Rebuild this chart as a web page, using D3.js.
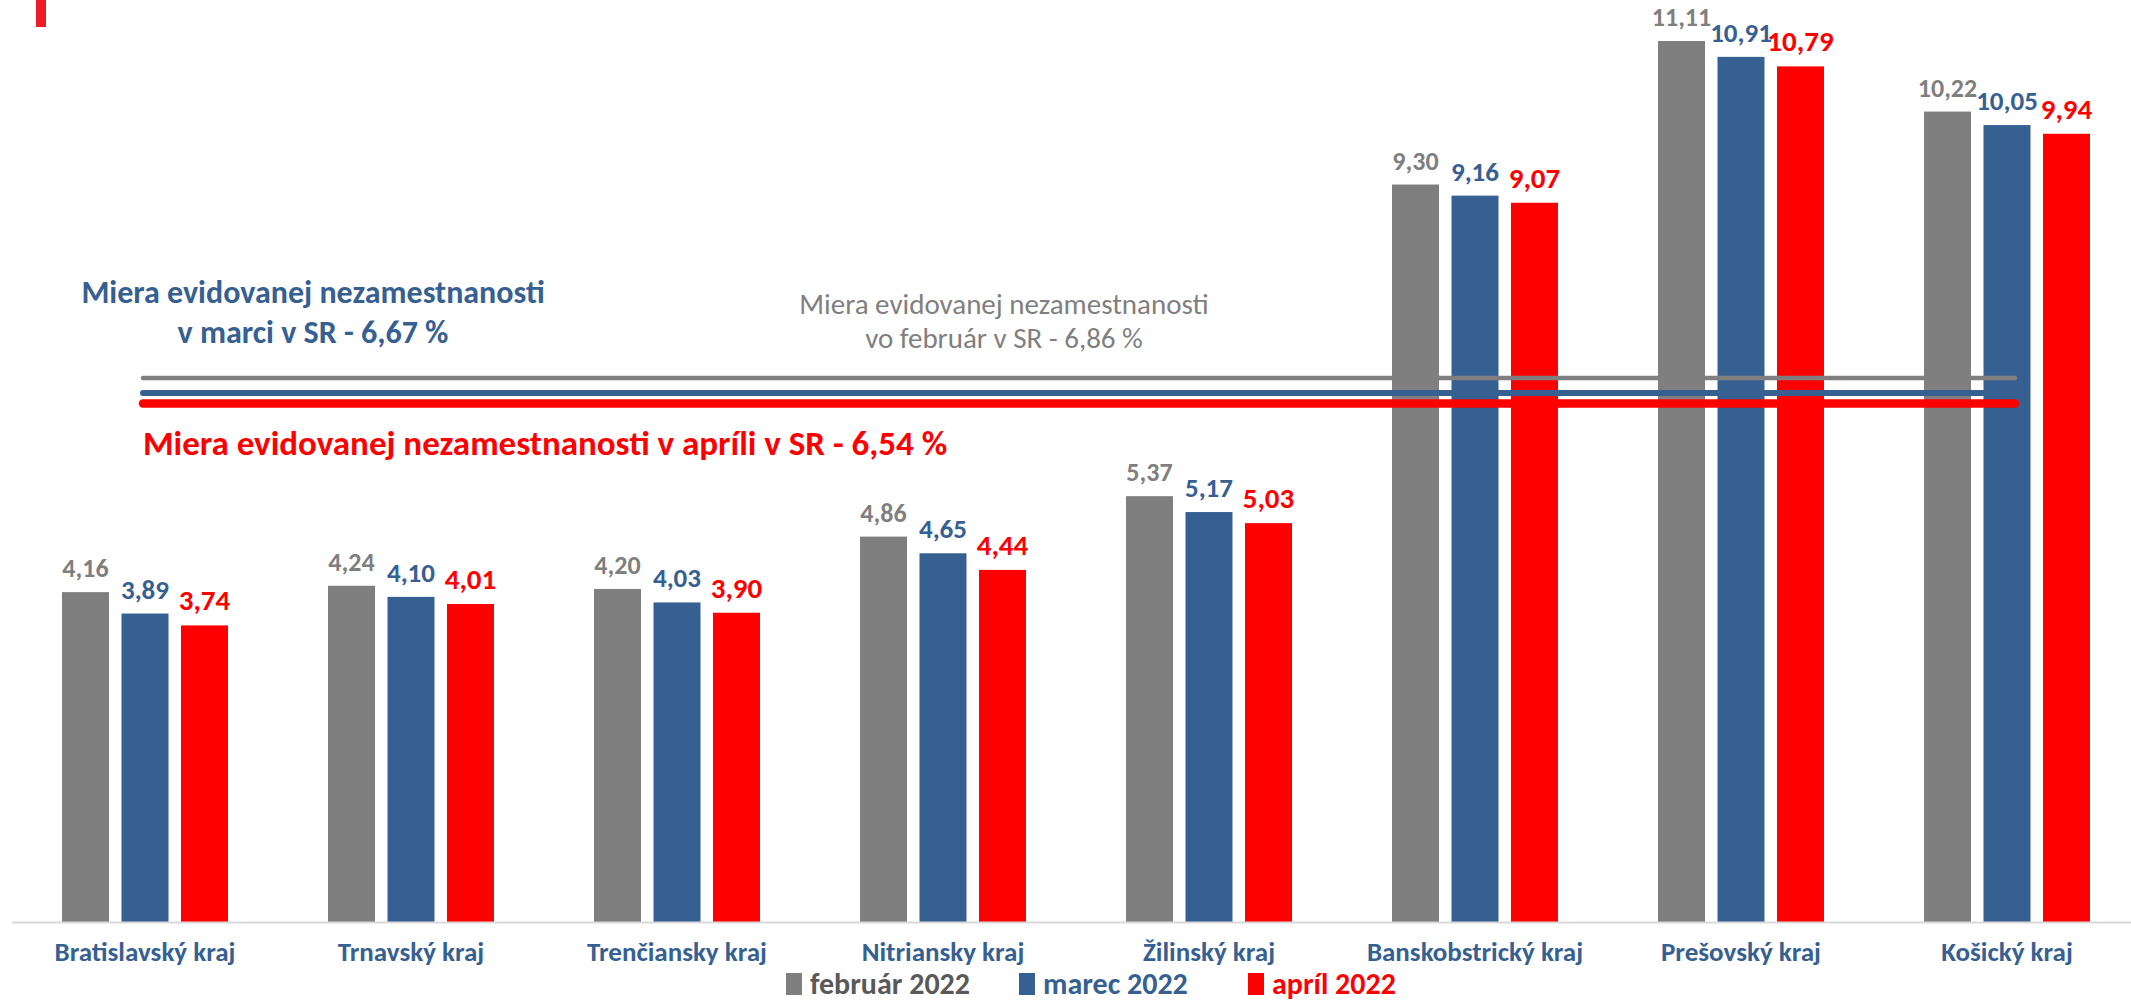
<!DOCTYPE html>
<html>
<head>
<meta charset="utf-8">
<script src="https://cdn.jsdelivr.net/npm/d3@7/dist/d3.min.js"></script>
<style>
  html, body { margin: 0; padding: 0; background: #fff; }
  svg { display: block; }
  text { font-family: 'Carlito', 'Liberation Sans Narrow', 'Open Sans', sans-serif; }
</style>
</head>
<body>
<svg id="chart" width="2131" height="1002"></svg>
<script>
const categories = ["Bratislavský kraj", "Trnavský kraj", "Trenčiansky kraj", "Nitriansky kraj",
  "Žilinský kraj", "Banskobstrický kraj", "Prešovský kraj", "Košický kraj"];
const seriesNames = ["február 2022", "marec 2022", "apríl 2022"];
const februar = [4.16, 4.24, 4.20, 4.86, 5.37, 9.30, 11.11, 10.22];
const marec   = [3.89, 4.10, 4.03, 4.65, 5.17, 9.16, 10.91, 10.05];
const april   = [3.74, 4.01, 3.90, 4.44, 5.03, 9.07, 10.79, 9.94];
const srRates = [6.86, 6.67, 6.54];
const srLabels = [
  ["Miera evidovanej nezamestnanosti", "vo február v SR - 6,86 %"],
  ["Miera evidovanej nezamestnanosti", "v marci v SR - 6,67 %"],
  ["Miera evidovanej nezamestnanosti v apríli v SR - 6,54 %"]
];

const series = [februar, marec, april];
const colors = ["#7f7f7f", "#376092", "#ff0000"];
const labelColors = ["#7f7f7f", "#376092", "#ff0000"];
const legendTextColors = ["#595959", "#376092", "#ff0000"];

const svg = d3.select("#chart");
const baseY = 922;

const x0 = d3.scaleBand().domain(categories).range([12, 2140]).paddingInner(0.376).paddingOuter(0.188);
const x1 = d3.scaleBand().domain(d3.range(3)).range([0, x0.bandwidth()]).paddingInner(0.21).paddingOuter(0);
const y = d3.scaleLinear().domain([0, 11.11]).range([baseY, 41]);

// top-left red mark
svg.append("rect").attr("x", 36).attr("y", 0).attr("width", 10).attr("height", 27).attr("fill", "#ee1c25");

// bars
const groups = svg.append("g").selectAll("g").data(categories).join("g")
  .attr("transform", d => `translate(${x0(d)},0)`);

groups.each(function(cat, ci) {
  const g = d3.select(this);
  series.forEach((s, si) => {
    g.append("rect")
      .attr("x", x1(si))
      .attr("y", y(s[ci]))
      .attr("width", x1.bandwidth())
      .attr("height", baseY - y(s[ci]))
      .attr("fill", colors[si]);
  });
});

// axis baseline
svg.append("line").attr("x1", 12).attr("x2", 2131).attr("y1", baseY + 0.5).attr("y2", baseY + 0.5)
  .attr("stroke", "#d9d9d9").attr("stroke-width", 2);

// value labels
const labelSizes = [26, 27, 29];
groups.each(function(cat, ci) {
  const g = d3.select(this);
  series.forEach((s, si) => {
    g.append("text")
      .attr("x", x1(si) + x1.bandwidth() / 2)
      .attr("y", y(s[ci]) - 15)
      .attr("text-anchor", "middle")
      .attr("fill", labelColors[si])
      .attr("font-size", labelSizes[si])
      .attr("font-weight", "bold")
      .text(d3.format(".2f")(s[ci]).replace(".", ","));
  });
});

// category labels
svg.append("g").selectAll("text").data(categories).join("text")
  .attr("x", d => x0(d) + x0.bandwidth() / 2)
  .attr("y", 961)
  .attr("text-anchor", "middle")
  .attr("fill", "#376092")
  .attr("font-size", 27)
  .attr("font-weight", "bold")
  .text(d => d);

// SR reference lines
const lineWidths = [4.5, 6, 8.5];
srRates.forEach((r, i) => {
  svg.append("line")
    .attr("x1", 143).attr("x2", 2015)
    .attr("y1", y(r)).attr("y2", y(r))
    .attr("stroke", colors[i])
    .attr("stroke-width", lineWidths[i])
    .attr("stroke-linecap", "round");
});

// SR annotations
const ann = svg.append("g");
// february (gray) centered
srLabels[0].forEach((t, i) => {
  ann.append("text").attr("x", 1004).attr("y", 314 + i * 34)
    .attr("text-anchor", "middle").attr("fill", "#7f7f7f").attr("font-size", 29)
    .text(t);
});
// march (blue) centered
srLabels[1].forEach((t, i) => {
  ann.append("text").attr("x", 313).attr("y", 303 + i * 40)
    .attr("text-anchor", "middle").attr("fill", "#376092").attr("font-size", 32)
    .attr("font-weight", "bold")
    .text(t);
});
// april (red) left aligned
ann.append("text").attr("x", 143).attr("y", 455)
  .attr("fill", "#ff0000").attr("font-size", 35).attr("font-weight", "bold")
  .text(srLabels[2][0]);

// legend
const legendX = [786, 1019, 1248];
const legend = svg.append("g");
seriesNames.forEach((n, i) => {
  legend.append("rect").attr("x", legendX[i]).attr("y", 973).attr("width", 16).attr("height", 22)
    .attr("fill", colors[i]);
  legend.append("text").attr("x", legendX[i] + 24).attr("y", 994)
    .attr("fill", legendTextColors[i]).attr("font-size", 30).attr("font-weight", "bold")
    .text(n);
});
</script>
</body>
</html>
